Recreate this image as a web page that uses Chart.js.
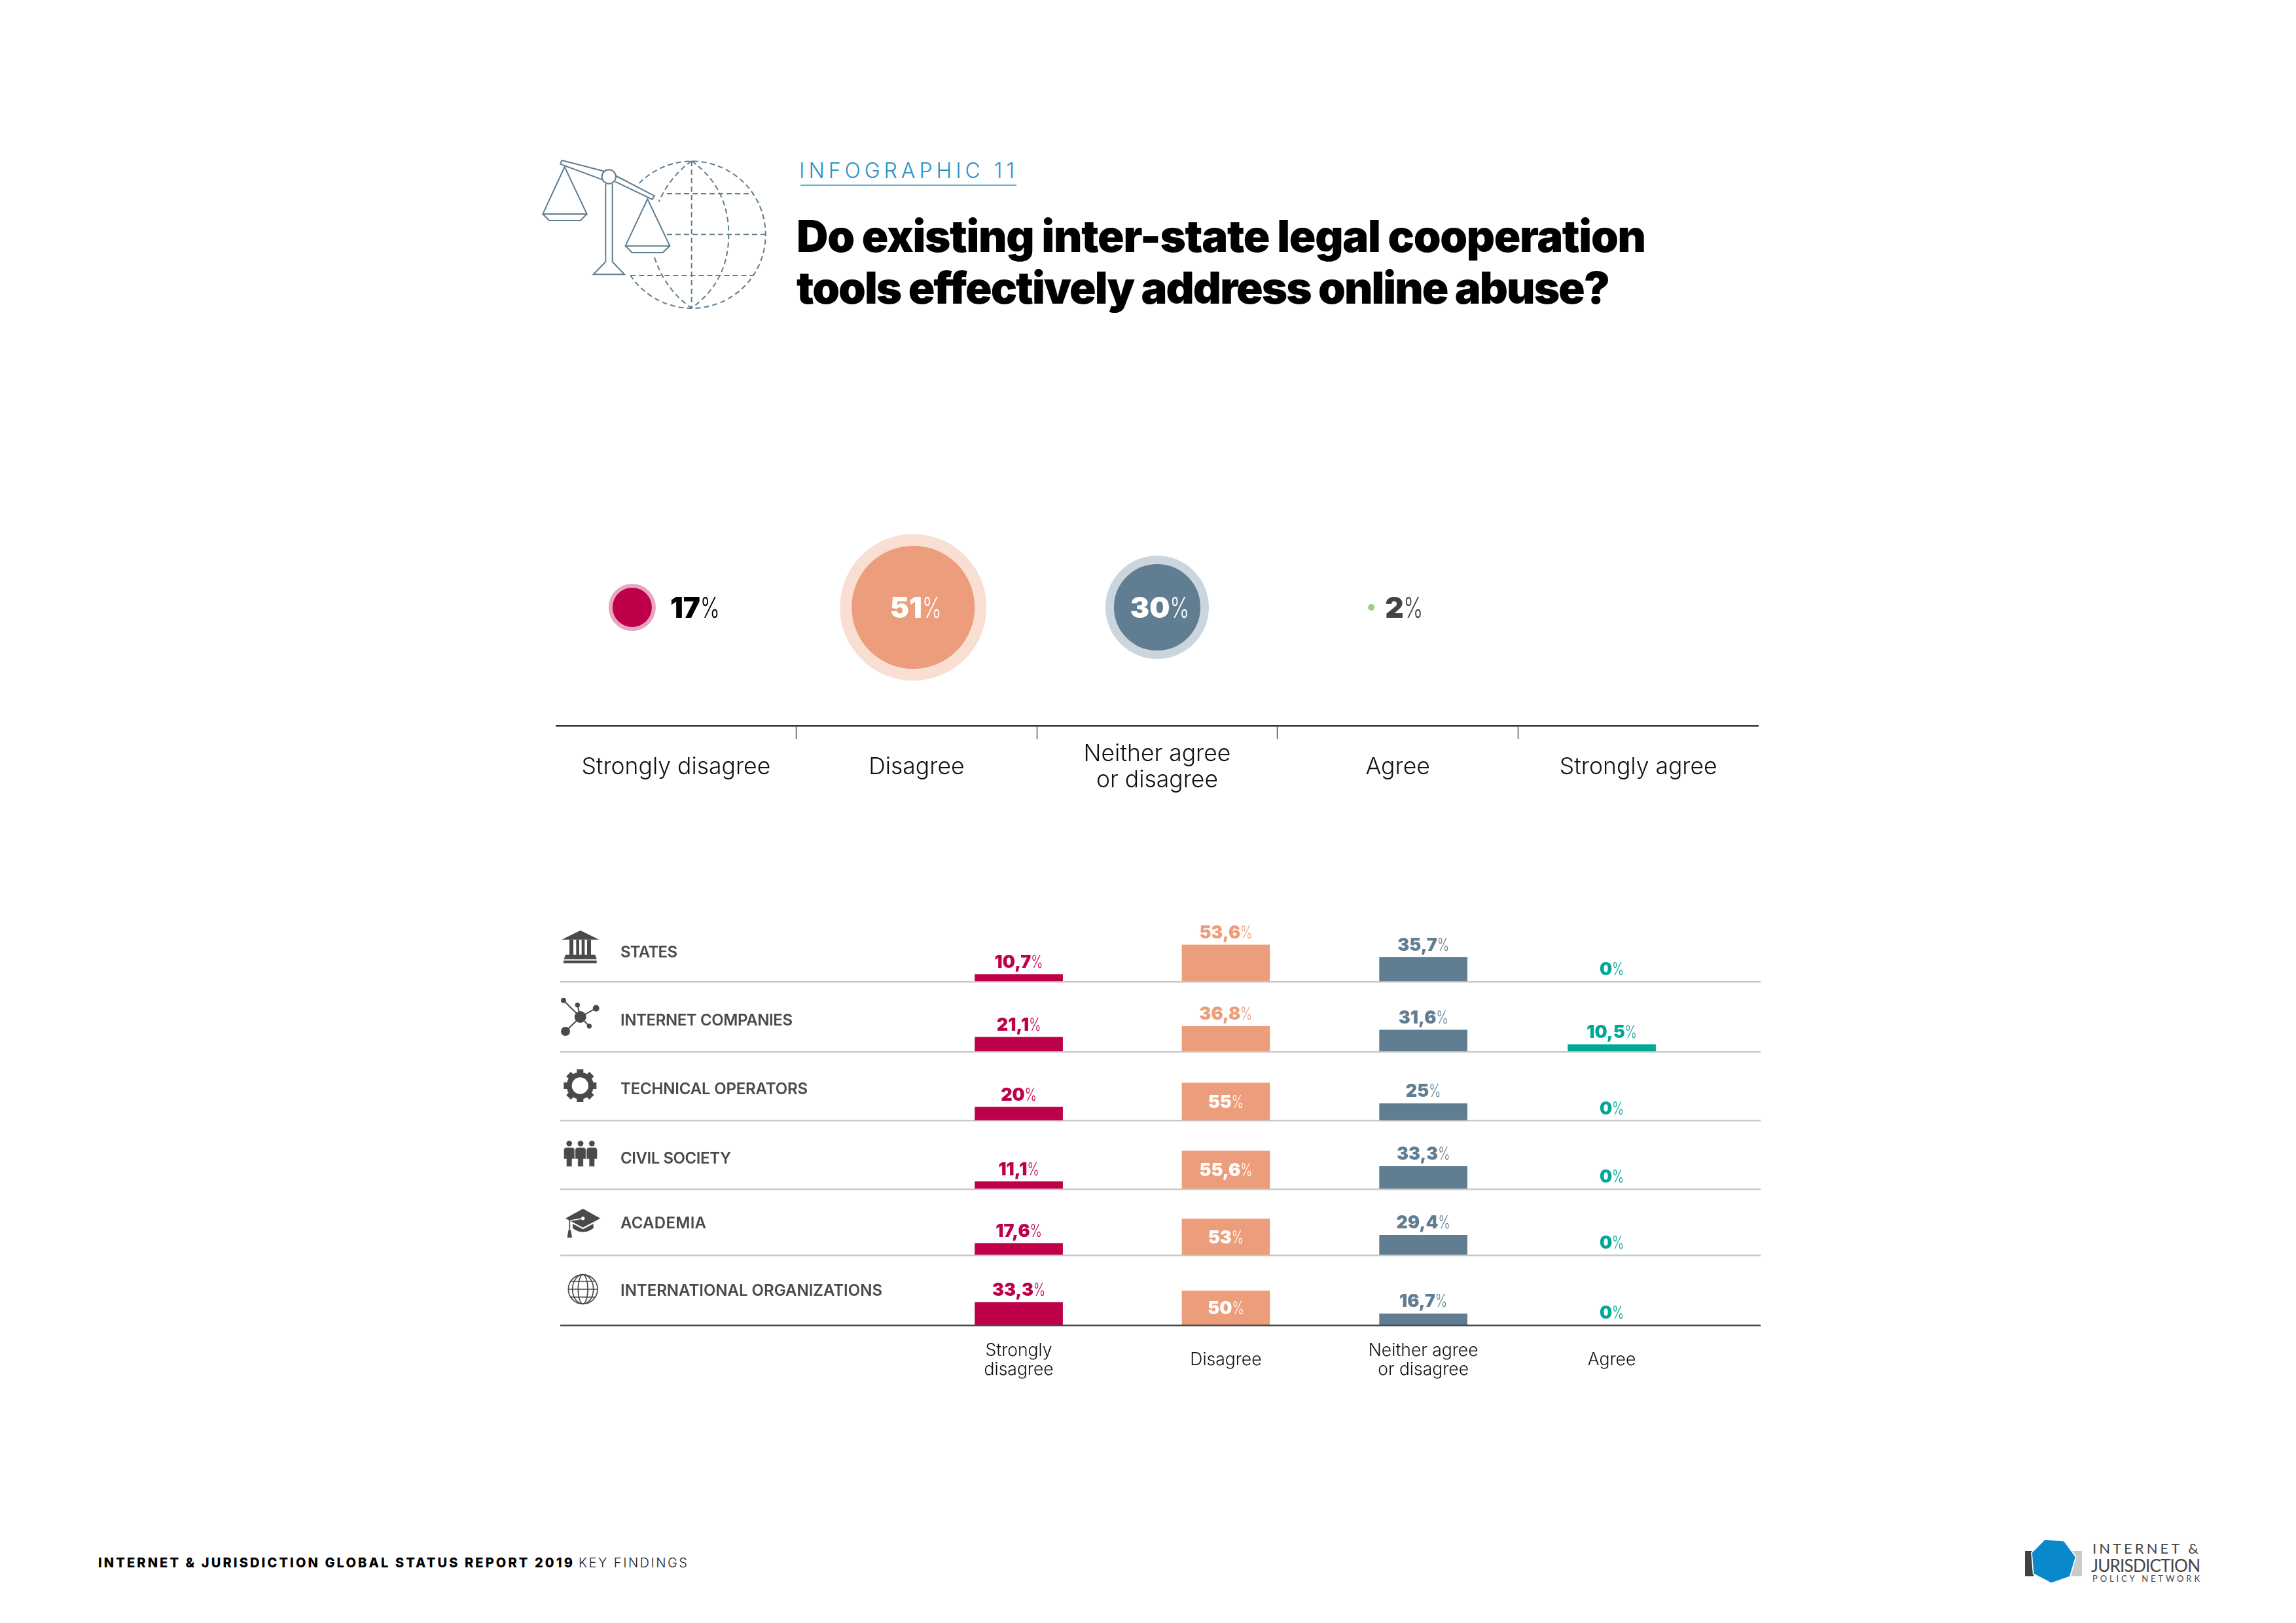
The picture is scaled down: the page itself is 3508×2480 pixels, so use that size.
<!DOCTYPE html>
<html>
<head>
<meta charset="utf-8">
<title>Infographic 11</title>
<script src="https://cdn.jsdelivr.net/npm/chart.js@4/dist/chart.umd.min.js"></script>
<style>
  html, body { margin: 0; background: #fff; }
  #page { position: relative; width: 3508px; height: 2480px; overflow: hidden; font-family: Inter, sans-serif; }
  #page canvas, #page svg { position: absolute; }
  .t { position: absolute; white-space: nowrap; }
  .row-name { left: 948px; font-size: 24px; line-height: 40px; font-weight: 600; color: #4a4a4c; }
</style>
</head>
<body>
<div id="page">

  <!-- scales and globe -->
  <svg style="left:820px;top:230px" width="380" height="260" viewBox="0 0 1140 780" fill="none" stroke="#5f7d8f" stroke-width="6">
    <g stroke-dasharray="24 15">
      <path d="M470 150 A338 337 0 1 1 430 573"/>
      <path d="M710 48 Q610 120 560 235"/>
      <path d="M540 490 Q590 640 710 722"/>
      <path d="M710 48 Q880 170 880 385 Q880 600 710 722"/>
      <path d="M710 48 V722"/>
      <path d="M597 198 H990"/>
      <path d="M597 385 H1048"/>
      <path d="M430 573 H990"/>
    </g>
    <path d="M115 45 L310 95 M108 62 L300 133 M115 45 L108 62 M365 117 L540 208 L530 224 L360 143"/>
    <circle cx="331" cy="120" r="32"/>
    <path d="M316 152 V510 L260 568 H402 L347 510 V152"/>
    <path d="M128 75 L28 291 H230 Z M28 291 L58 321 H200 L230 291"/>
    <path d="M508 222 L407 437 H610 Z M407 437 L437 468 H578 L610 437"/>
  </svg>

  <div class="t" data-w="329" style="left:1221px;top:238px;font-size:32px;line-height:46px;font-weight:300;color:#2a93c6">INFOGRAPHIC 11</div>
  <div style="position:absolute;left:1223px;top:282px;width:330px;height:2px;background:#5bb0d8"></div>
  <div class="t" data-w="1298" style="left:1217px;top:321px;font-size:67px;line-height:79px;font-weight:900;color:#000">Do existing inter-state legal cooperation</div>
  <div class="t" data-w="1243" style="left:1217px;top:400px;font-size:67px;line-height:79px;font-weight:900;color:#000">tools effectively address online abuse?</div>

  <canvas id="bubbleChart" style="left:849px;top:747px"></canvas>
  <canvas id="barChart" style="left:856px;top:1393px"></canvas>

  <!-- row icons, upper three -->
  <svg style="left:840px;top:1400px" width="500" height="340" viewBox="0 0 1500 1020" fill="#4a4a4c">
    <path d="M140 65 L226 107 H55 Z"/>
    <rect x="90" y="107" width="18" height="70"/><rect x="121" y="107" width="14" height="70"/>
    <rect x="146" y="107" width="14" height="70"/><rect x="171" y="107" width="18" height="70"/>
    <path d="M72 176 H208 L215 197 H65 Z"/><rect x="63" y="203" width="152" height="13"/>
    <g stroke="#4a4a4c" stroke-width="6">
      <path d="M140 462 L63 386 M140 462 L127 407 M140 462 L212 422 M140 462 L181 504 M140 462 L72 528"/>
    </g>
    <circle cx="140" cy="462" r="27"/><circle cx="63" cy="386" r="12"/><circle cx="127" cy="407" r="11"/>
    <circle cx="212" cy="422" r="15"/><circle cx="181" cy="504" r="11"/><circle cx="72" cy="528" r="21"/>
    <g transform="translate(139 777)">
      <circle r="50" fill="none" stroke="#4a4a4c" stroke-width="24"/>
      <rect x="-15" y="-75" width="30" height="150"/>
      <rect x="-15" y="-75" width="30" height="150" transform="rotate(45)"/>
      <rect x="-15" y="-75" width="30" height="150" transform="rotate(90)"/>
      <rect x="-15" y="-75" width="30" height="150" transform="rotate(135)"/>
      <circle r="38" fill="#fff"/>
    </g>
  </svg>

  <!-- row icons, lower three -->
  <svg style="left:840px;top:1730px" width="500" height="320" viewBox="0 0 1500 960" fill="#4a4a4c">
    <g stroke="#fff" stroke-width="2">
      <circle cx="89" cy="52" r="14"/><circle cx="141" cy="52" r="14"/><circle cx="193" cy="52" r="14"/>
      <path d="M64 82 Q64 70 76 70 H102 Q114 70 114 82 V123 H102 V158 H76 V123 H64 Z"/>
      <path d="M116 82 Q116 70 128 70 H154 Q166 70 166 82 V123 H154 V158 H128 V123 H116 Z"/>
      <path d="M168 82 Q168 70 180 70 H206 Q218 70 218 82 V123 H206 V158 H180 V123 H168 Z"/>
    </g>
    <path d="M152 351 L232 395 L152 437 L72 395 Z"/>
    <path d="M105 420 L152 445 L200 420 V440 Q152 475 105 440 Z"/>
    <path d="M95 405 L150 396" stroke="#fff" stroke-width="4"/>
    <circle cx="152" cy="395" r="8" fill="#fff"/>
    <path d="M91 405 V450" stroke="#4a4a4c" stroke-width="5"/>
    <path d="M85 450 H97 L102 484 H80 Z"/>
    <g fill="none" stroke="#4a4a4c" stroke-width="5">
      <circle cx="152" cy="720" r="67"/>
      <ellipse cx="152" cy="720" rx="22" ry="67"/>
      <ellipse cx="152" cy="720" rx="48" ry="67"/>
      <path d="M85 720 H219 M95 684 H209 M95 756 H209"/>
    </g>
  </svg>

  <div class="t" data-w="725" style="left:150px;top:2373px;font-size:20px;line-height:30px;font-weight:800;color:#000">INTERNET &amp; JURISDICTION GLOBAL STATUS REPORT 2019</div>
  <div class="t" data-w="166" style="left:884px;top:2373px;font-size:20px;line-height:30px;font-weight:300;color:#222">KEY FINDINGS</div>

  <!-- network logo -->
  <svg style="left:3080px;top:2340px" width="330" height="110" viewBox="0 0 990 330">
    <rect x="42" y="90" width="40" height="115" fill="#414042"/>
    <rect x="255" y="90" width="48" height="115" fill="#c8cacc"/>
    <path d="M133 36 L222 44 L275 117 L248 208 L162 238 L80 195 L72 97 Z" fill="#0a88cc" stroke="#fff" stroke-width="5"/>
  </svg>
  <div class="t" data-w="162" style="left:3197px;top:2352px;font-family:Lato;font-size:22px;line-height:28px;color:#444">INTERNET &amp;</div>
  <div class="t" data-w="167" style="left:3195px;top:2375px;font-family:Lato;font-size:26px;line-height:34px;color:#444">JURISDICTION</div>
  <div class="t" data-w="164" style="left:3197px;top:2404px;font-family:Lato;font-size:13px;line-height:16px;color:#444">POLICY NETWORK</div>
</div>

<script>
// top scale
const opinionLabels = ['Strongly disagree', 'Disagree', ['Neither agree', 'or disagree'], 'Agree', 'Strongly agree'];
const overallValues = [17, 51, 30, 2];

// rows under it
const rowNames = ['STATES', 'INTERNET COMPANIES', 'TECHNICAL OPERATORS', 'CIVIL SOCIETY', 'ACADEMIA', 'INTERNATIONAL ORGANIZATIONS'];
const rowWidths = [87, 263, 286, 169, 131, 400];
const barLabels = [['Strongly', 'disagree'], 'Disagree', ['Neither agree', 'or disagree'], 'Agree'];
const states = [10.7, 53.6, 35.7, 0];
const internetCompanies = [21.1, 36.8, 31.6, 10.5];
const technicalOperators = [20, 55, 25, 0];
const civilSociety = [11.1, 55.6, 33.3, 0];
const academia = [17.6, 53, 29.4, 0];
const internationalOrganizations = [33.3, 50, 16.7, 0];
const rowValues = [states, internetCompanies, technicalOperators, civilSociety, academia, internationalOrganizations];

// look of the thing
const INK = '#000';
const barColors = ['#be004b', '#ec9d7b', '#607d91', '#00a896'];
const bubbleFill = ['#be004b', '#ec9d7b', '#607d91', '#9ccc8c'];
const bubbleHalo = ['#e8a6bf', '#f9dfd3', '#cbd5dd', '#9ccc8c'];
const bubbleRadius = [33, 103, 72.5, 5];
const bubbleRing = [6, 18, 13, 0];
const bubbleSlot = [0.318, 1.486, 2.5, 3.39];        // where in the scale each bubble sits
const bubbleText = [INK, '#fff', '#fff', '#444'];
const columnAt = [38.2, 55.45, 71.9, 87.6];          // bar columns, % of the row width
const rowHeights = [107, 107, 105.4, 104.6, 101, 106.7];
const rowTextY = [1455, 1559, 1664, 1770, 1869, 1972];
const PX_PER_PCT = 1.05;

Chart.defaults.font.family = 'Inter, sans-serif';

function setSize(id, w, h) {
    const c = document.getElementById(id);
    c.width = w; c.height = h;
    c.style.width = w + 'px'; c.style.height = h + 'px';
    return c;
}

// number in heavy, % sign light and squeezed so it stays as tall as the digits
function drawPct(ctx, value, x, y, size, color, align) {
    const num = String(value).replace('.', ',');
    const squeeze = 0.72;
    ctx.save();
    ctx.textBaseline = 'alphabetic';
    ctx.textAlign = 'left';
    ctx.fillStyle = color;
    ctx.font = '300 ' + size + 'px Inter';
    const w2 = ctx.measureText('%').width * squeeze;
    ctx.font = '900 ' + size + 'px Inter';
    const w1 = ctx.measureText(num).width;
    const left = align === 'center' ? x - (w1 + w2) / 2 : x;
    ctx.fillText(num, left, y);
    ctx.font = '300 ' + size + 'px Inter';
    ctx.translate(left + w1, y);
    ctx.scale(squeeze, 1);
    ctx.fillText('%', 0, 0);
    ctx.restore();
}

const bubbleLabels = {
    id: 'bubbleLabels',
    afterDatasetsDraw(chart) {
        chart.getDatasetMeta(0).data.forEach((el, i) => {
            const size = 44;
            const y = el.y + size * 0.36;
            if (bubbleRadius[i] > 50) {
                drawPct(chart.ctx, overallValues[i], el.x + 4, y, size, bubbleText[i], 'center');
            } else {
                drawPct(chart.ctx, overallValues[i], el.x + bubbleRadius[i] + bubbleRing[i] * 1.5 + 16, y, size, bubbleText[i], 'left');
            }
        });
    }
};

const barValueLabels = {
    id: 'barValueLabels',
    afterDatasetsDraw(chart) {
        chart.data.datasets.forEach((ds, r) => {
            chart.getDatasetMeta(r).data.forEach((bar, c) => {
                const size = 27;
                const v = rowValues[r][c];
                // the tall salmon bars of the lower rows carry the number inside
                if (c === 1 && r >= 2) {
                    drawPct(chart.ctx, v, bar.x, (bar.y + bar.base) / 2 + size * 0.36, size, '#fff', 'center');
                } else {
                    drawPct(chart.ctx, v, bar.x, bar.y - 10, size, barColors[c], 'center');
                }
            });
        });
    }
};

new Chart(setSize('bubbleChart', 1838, 482), {
    type: 'bubble',
    data: {
        datasets: [{
            data: overallValues.map((v, i) => ({ x: bubbleSlot[i], y: 0, r: bubbleRadius[i] })),
            backgroundColor: bubbleFill,
            borderColor: bubbleHalo,
            borderWidth: bubbleRing,
            hoverRadius: 0
        }]
    },
    options: {
        responsive: false,
        devicePixelRatio: 1,
        animation: false,
        layout: { padding: 0, autoPadding: false },
        plugins: { legend: { display: false }, tooltip: { enabled: false } },
        scales: {
            y: { display: false, min: -1, max: 1 },
            x: {
                type: 'linear', min: 0, max: 5, position: 'bottom', weight: 1,
                afterFit: s => { s.height = 20; },
                ticks: { display: false, stepSize: 1 },
                border: { color: '#3a3a3a', width: 2.5 },
                grid: {
                    drawOnChartArea: false,
                    tickLength: 20,
                    tickWidth: 1.5,
                    tickColor: c => (c.tick.value > 0 && c.tick.value < 5 ? '#555' : 'transparent')
                }
            },
            names: {
                type: 'category', labels: opinionLabels, offset: true, position: 'bottom', weight: 2,
                afterFit: s => { s.height = 100; },
                border: { display: false },
                grid: { display: false },
                ticks: {
                    autoSkip: false, maxRotation: 0, padding: 15, crossAlign: 'center', color: '#111',
                    font: { size: 35.5, weight: '300', lineHeight: 1.13 }
                }
            }
        }
    },
    plugins: [bubbleLabels]
});

// one y scale per row, stacked in the same column
const barScales = {
    x: {
        type: 'linear', min: 0, max: 100, offset: false,
        afterBuildTicks: s => { s.ticks = columnAt.map(v => ({ value: v })); },
        afterFit: s => { s.height = 100; },
        border: { display: false },
        grid: { display: false },
        ticks: {
            autoSkip: false, maxRotation: 0, padding: 31, crossAlign: 'center', color: '#111',
            font: { size: 26.5, weight: '300', lineHeight: 1.09 },
            callback: (v, i) => barLabels[i]
        }
    }
};
rowNames.forEach((name, i) => {
    barScales['y' + i] = {
        stack: 'rows',
        stackWeight: rowHeights[i],
        weight: rowNames.length - i,
        position: 'left',
        min: 0,
        max: rowHeights[i] / PX_PER_PCT,
        afterBuildTicks: s => { s.ticks = [{ value: 0 }]; },
        ticks: { display: false },
        border: { display: false },
        grid: { color: i === rowNames.length - 1 ? '#4a4a4c' : '#c9c9c9', lineWidth: 2.5, drawTicks: false }
    };
});

new Chart(setSize('barChart', 1834, 732), {
    type: 'bar',
    data: {
        datasets: rowValues.map((vals, i) => ({
            label: rowNames[i],
            yAxisID: 'y' + i,
            data: vals.map((v, c) => ({ x: columnAt[c], y: v })),
            backgroundColor: c => (c.raw.y ? barColors[c.dataIndex] : 'transparent'),
            barThickness: 134,
            grouped: false
        }))
    },
    options: {
        responsive: false,
        devicePixelRatio: 1,
        animation: false,
        layout: { padding: 0 },
        plugins: { legend: { display: false }, tooltip: { enabled: false } },
        scales: barScales
    },
    plugins: [barValueLabels]
});

// row names
const page = document.getElementById('page');
rowNames.forEach((name, i) => {
    const d = document.createElement('div');
    d.className = 't row-name';
    d.dataset.w = rowWidths[i];
    d.style.top = (rowTextY[i] - 20) + 'px';
    d.textContent = name;
    page.appendChild(d);
});

// Poppins isn't installed, so pull the text out to the width it has in the report
document.querySelectorAll('[data-w]').forEach(el => {
    const now = el.getBoundingClientRect().width;
    el.style.letterSpacing = ((+el.dataset.w - now) / (el.textContent.length - 1)) + 'px';
});
</script>
</body>
</html>
